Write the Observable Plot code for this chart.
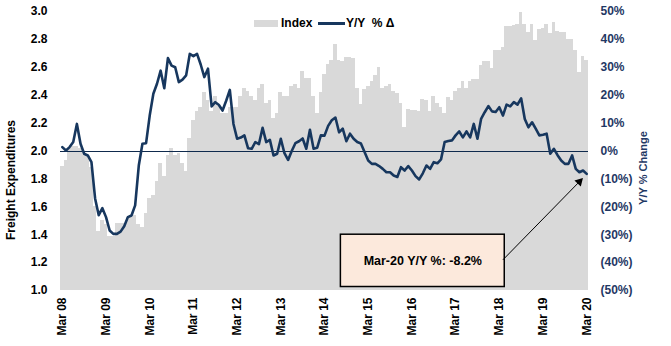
<!DOCTYPE html>
<html>
<head>
<meta charset="utf-8">
<script src="https://cdn.jsdelivr.net/npm/d3@7"></script>
<script src="https://cdn.jsdelivr.net/npm/@observablehq/plot@0.6"></script>
<style>
  html, body { margin: 0; padding: 0; background: #fff; }
  #wrap { position: relative; width: 671px; height: 346px; font-family: "Liberation Sans", Arial, sans-serif; font-weight: bold; }
  #wrap svg { position: absolute; left: 0; top: 0; }
  .abs { position: absolute; white-space: pre; }
  .rot { transform: translate(-50%, -50%) rotate(-90deg); }
</style>
</head>
<body>
<div id="wrap"></div>
<script>
// Cass Freight Index (expenditures), monthly Mar 08 .. Mar 20
const indexValues = [
  1.89, 1.93, 2.02, 2.03, 2.03, 2.02, 2.00, 1.97, 1.88, 1.60,
  1.42, 1.50, 1.47, 1.39, 1.39, 1.48, 1.48, 1.48, 1.52, 1.52,
  1.54, 1.47, 1.45, 1.55, 1.66, 1.68, 1.78, 1.91, 1.82, 1.97,
  2.02, 1.97, 1.98, 1.91, 1.85, 2.09, 2.22, 2.28, 2.31, 2.42,
  2.36, 2.28, 2.39, 2.32, 2.27, 2.27, 2.31, 2.31, 2.31, 2.39,
  2.45, 2.43, 2.39, 2.36, 2.45, 2.48, 2.34, 2.36, 2.23, 2.27,
  2.42, 2.39, 2.39, 2.46, 2.48, 2.45, 2.57, 2.52, 2.52, 2.39,
  2.27, 2.42, 2.55, 2.62, 2.65, 2.76, 2.65, 2.64, 2.67, 2.67,
  2.66, 2.45, 2.33, 2.44, 2.46, 2.50, 2.54, 2.60, 2.45, 2.46,
  2.48, 2.43, 2.41, 2.34, 2.17, 2.30, 2.29, 2.29, 2.28, 2.37,
  2.36, 2.28, 2.39, 2.34, 2.31, 2.27, 2.38, 2.36, 2.43, 2.45,
  2.50, 2.45, 2.50, 2.51, 2.51, 2.61, 2.64, 2.64, 2.59, 2.72,
  2.72, 2.74, 2.89, 2.89, 2.90, 2.91, 2.99, 2.91, 2.85, 2.91,
  2.79, 2.87, 2.88, 2.91, 2.84, 2.92, 2.86, 2.85, 2.85, 2.80,
  2.80, 2.72, 2.56, 2.68, 2.65
];
// Y/Y % change
const yoyValues = [
  1.4, 0.2, 1.4, 3.2, 9.7, 2.6, -1.0, -1.6, -4.0, -17.0,
  -23.0, -20.5, -23.7, -28.5, -29.7, -29.7, -28.9, -27.0, -23.7, -23.1,
  -19.5, -5.2, 2.6, 2.8, 12.7, 20.5, 24.1, 28.8, 22.5, 33.3,
  30.6, 30.0, 24.7, 25.6, 27.1, 34.8, 34.0, 34.8, 31.0, 26.5,
  29.5, 16.0, 17.5, 16.5, 14.5, 18.0, 21.9, 9.7, 4.4, 4.8,
  5.6, 1.0, 0.8, 3.2, 2.5, 8.3, 3.2, 4.0, -1.6, -1.0,
  4.4, -0.8, -3.2, 0.0, 2.8, 3.5, 4.5, 0.8, 7.6, 0.8,
  1.2, 5.6, 5.5, 9.0, 11.0, 12.0, 6.7, 8.0, 3.5, 6.2,
  4.4, 3.2, 2.7, -0.4, -3.4, -4.6, -4.6, -5.4, -6.4, -7.6,
  -7.6, -8.8, -9.3, -5.8, -7.0, -5.4, -7.0, -9.0, -10.2, -8.0,
  -5.2, -6.4, -4.0, -4.4, -3.0, 3.2, 3.6, 3.8, 5.6, 7.0,
  4.9, 7.0, 4.9, 9.7, 4.4, 11.5, 13.9, 16.1, 14.2, 14.0,
  15.7, 12.7, 16.6, 16.0, 17.5, 16.6, 18.9, 11.5, 8.5, 10.3,
  8.0, 5.6, 5.8, 6.2, -1.0, 0.8, -1.5, -3.4, -4.6, -4.6,
  -1.6, -6.4, -7.6, -7.0, -8.2
];
const tickLabels = ["Mar 08","Mar 09","Mar 10","Mar 11","Mar 12","Mar 13","Mar 14","Mar 15","Mar 16","Mar 17","Mar 18","Mar 19","Mar 20"];
const tickMonths = [0, 12, 24, 36, 48, 60, 72, 84, 96, 108, 120, 132, 144];
const leftTicks = [1.0, 1.2, 1.4, 1.6, 1.8, 2.0, 2.2, 2.4, 2.6, 2.8, 3.0];
const leftTickLabels = ["1.0","1.2","1.4","1.6","1.8","2.0","2.2","2.4","2.6","2.8","3.0"];
const rightTickLabels = ["(50%)","(40%)","(30%)","(20%)","(10%)","0%","10%","20%","30%","40%","50%"];
const noteText = "Mar-20 Y/Y %: -8.2%";
const noteBox = [{x1: 77, x2: 121, y1: 1.025, y2: 1.40, tx: 99, ty: 1.215}];
const noteArrow = [{x1: 121, y1: 1.22, x2: 142, y2: 1.78}];

const months = d3.range(indexValues.length);
const data = months.map(i => ({i, index: indexValues[i], yoy: yoyValues[i]}));
// right axis: -50%..50% shares the left axis 1.0..3.0
const toLeft = p => 2 + p / 50;

const navy = "#17375E";
const axisNavy = "#1F3864";

const plot = Plot.plot({
  width: 671,
  height: 346,
  marginLeft: 60,
  marginRight: 83,
  marginTop: 11,
  marginBottom: 56,
  style: {fontFamily: '"Liberation Sans", Arial, sans-serif', fontSize: "12px", fontWeight: "bold", background: "#fff", color: "#000"},
  x: {type: "band", domain: months, padding: 0, axis: null},
  y: {domain: [1, 3], axis: null},
  marks: [
    Plot.barY(data, {x: "i", y1: 1, y2: "index", fill: "#D9D9D9", shapeRendering: "crispEdges"}),
    Plot.ruleY([2], {stroke: "#0F2A4D", strokeWidth: 1, shapeRendering: "crispEdges"}),
    Plot.line(data, {x: "i", y: d => toLeft(d.yoy), stroke: navy, strokeWidth: 2.6, strokeLinejoin: "round"}),
    Plot.axisX({ticks: tickMonths, tickFormat: d => tickLabels[tickMonths.indexOf(d)], tickRotate: -90, tickSize: 0, tickPadding: 7, label: null, fontSize: 12}),
    Plot.axisY({anchor: "left", ticks: leftTicks, tickFormat: d => leftTickLabels[leftTicks.indexOf(d)], tickSize: 0, tickPadding: 13, label: null, fontSize: 12}),
    Plot.axisY({anchor: "right", ticks: leftTicks, tickFormat: d => rightTickLabels[leftTicks.indexOf(d)], tickSize: 0, tickPadding: 12, label: null, color: axisNavy, fontSize: 12}),
    Plot.rect(noteBox, {x1: "x1", x2: "x2", y1: "y1", y2: "y2", fill: "#FCE9DC", stroke: "#000", strokeWidth: 1.5}),
    Plot.text(noteBox, {x: "tx", y: "ty", text: () => noteText, fontSize: 12.5, fontWeight: "bold", fill: "#000"}),
    Plot.link(noteArrow, {x1: "x1", y1: "y1", x2: "x2", y2: "y2", stroke: "#000", strokeWidth: 1}),
    Plot.dot(noteArrow, {x: "x2", y: "y2", symbol: "triangle", r: 3.3, fill: "#000", stroke: null, rotate: 44})
  ]
});

const wrap = document.getElementById("wrap");
wrap.appendChild(plot);

function addDiv(html, css, cls) {
  const d = document.createElement("div");
  d.className = "abs" + (cls ? " " + cls : "");
  d.textContent = html;
  Object.assign(d.style, css);
  wrap.appendChild(d);
  return d;
}
// legend
addDiv("", {left: "254px", top: "20px", width: "24px", height: "7px", background: "#D9D9D9"});
addDiv("Index", {left: "281px", top: "16px", fontSize: "12px", lineHeight: "14px", color: "#000"});
addDiv("", {left: "318px", top: "22px", width: "27px", height: "3px", background: navy});
addDiv("Y/Y  % \u0394", {left: "346px", top: "16px", fontSize: "12px", lineHeight: "14px", color: "#000"});
// axis titles
addDiv("Freight Expenditures", {left: "11px", top: "180px", fontSize: "12px", color: "#000"}, "rot");
addDiv("Y/Y % Change", {left: "643px", top: "168px", fontSize: "11px", color: axisNavy}, "rot");
</script>
</body>
</html>
